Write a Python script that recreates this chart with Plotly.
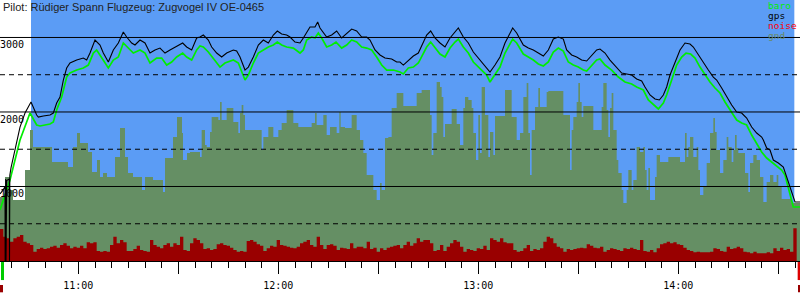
import pandas as pd
import plotly.graph_objects as go

BASE = pd.Timestamp("2000-01-01 10:00:00")

# --- GPS altitude (m), time in minutes after 10:00 ---
gps_t = [36.5, 37.4, 38.0, 38.05, 38.2, 38.3, 38.5, 39.3, 39.35, 39.45, 39.8, 41.0, 42.5, 44.0, 45.8,
         47.5, 48.0, 49.5, 51.5, 52.5, 53.5, 54.5, 55.5, 56.5, 57.5, 59.5, 61.5, 62.5, 63.5, 65.0,
         66.5, 67.5, 69.0, 70.5, 72.0, 73.5, 74.5, 76.0, 77.0, 78.5, 80.0, 81.5, 83.0, 84.5, 86.0,
         87.5, 89.0, 91.3, 92.5, 94.0, 95.5, 96.5, 97.5, 99.0, 100.0, 101.5, 103.0, 104.5, 106.5,
         107.5, 108.5, 110.0, 111.0, 112.5, 114.0, 115.5, 117.0, 118.5, 119.7, 121.0, 122.5, 123.5,
         125.0, 126.5, 127.5, 128.5, 129.5, 131.0, 131.8, 132.5, 133.5, 134.5, 136.0, 137.5, 139.0,
         140.5, 142.0, 143.5, 145.0, 146.5, 147.5, 149.0, 150.5, 152.0, 154.0, 155.5, 156.5, 157.5,
         159.0, 160.5, 162.0, 163.5, 164.5, 165.7, 167.0, 168.5, 170.0, 171.5, 173.0, 174.0, 175.5,
         177.0, 178.5, 180.5, 182.5, 183.5, 185.0, 186.5, 188.0, 189.5, 190.3, 191.5, 193.5, 195.0,
         196.5, 198.0, 199.5, 201.0, 202.5, 204.0, 205.5, 206.5, 208.0, 209.5, 211.0, 212.5, 214.0,
         215.5, 216.5, 218.0, 219.5, 221.5, 223.0, 224.5, 226.0, 227.5, 229.0, 230.0, 231.5, 233.0,
         234.3, 235.5, 236.5, 237.5, 239.0, 240.5, 242.0, 243.5, 244.5, 246.0, 247.5, 249.0, 250.5,
         251.5, 253.0, 254.5, 256.0, 257.5, 259.0, 260.5, 262.0, 263.5, 265.0, 265.5, 266.5, 267.5,
         268.5, 270.0, 271.5, 272.5, 273.5, 274.3, 275.0, 276.5]
gps_alt = [900, 950, 1000, 0, 1100, 0, 1080, 1100, 0, 1150, 1250, 1490, 1798, 1986, 2134,
           1959, 1932, 1946, 1959, 1986, 2120, 2201, 2429, 2590, 2657, 2697, 2724, 2697, 2791, 2966,
           2899, 2791, 2670, 2832, 2926, 3073, 3006, 2926, 2899, 2966, 2926, 2791, 2832, 2858, 2791,
           2832, 2872, 2926, 2872, 2832, 2993, 3006, 3033, 2966, 2872, 2791, 2738, 2791, 2832,
           2818, 2738, 2563, 2603, 2738, 2899, 2966, 2926, 3033, 3087, 3046, 3033, 3006,
           2939, 2926, 2993, 3060, 3140, 3140, 3207, 3127, 3073, 3006, 3033, 3087, 2993,
           3060, 3113, 3087, 3006, 3006, 2966, 2832, 2765, 2724, 2711, 2670, 2670, 2630,
           2697, 2751, 2791, 2939, 3033, 3087, 2993, 2926, 2872, 2993, 3073, 3127, 3006,
           2926, 2805, 2697, 2603, 2536, 2630, 2738, 2926, 3060, 3127, 3060, 2899, 2858,
           2832, 2791, 2751, 2832, 2979, 3006, 2979, 2832, 2765, 2738, 2697, 2684, 2765,
           2832, 2845, 2791, 2697, 2603, 2523, 2510, 2496, 2442, 2416, 2335, 2228, 2174,
           2161, 2228, 2335, 2496, 2671, 2832, 2926, 2912, 2872, 2765, 2671, 2563, 2469,
           2429, 2322, 2201, 2094, 2000, 1986, 1919, 1798, 1718, 1664, 1624, 1516, 1490,
           1355, 1315, 1261, 1127, 993, 859, 792, 792]

# --- Barometric altitude (m) ---
baro_t = [36.5, 39.5, 42.5, 45.5, 47.5, 48.5, 51.5, 52.5, 53.5, 55.0, 56.5, 57.5, 59.5, 61.5, 63.0,
          64.5, 65.5, 66.5, 69.0, 70.5, 72.0, 73.5, 75.0, 76.5, 78.5, 80.0, 81.5, 83.5, 85.0, 86.5,
          88.0, 89.5, 91.3, 92.5, 94.0, 95.5, 96.5, 97.5, 99.0, 100.5, 102.5, 104.0, 106.5, 108.0,
          109.0, 110.0, 111.0, 112.5, 114.0, 115.5, 117.0, 118.5, 119.7, 121.0, 122.5, 124.5, 126.5,
          127.5, 128.5, 130.0, 131.0, 132.0, 133.0, 134.5, 136.0, 137.3, 139.0, 140.5, 142.0, 143.5,
          145.0, 146.5, 148.0, 149.5, 151.0, 152.5, 154.5, 156.5, 157.5, 159.0, 160.5, 162.0, 163.5,
          164.5, 165.7, 167.0, 168.5, 170.0, 171.5, 173.0, 174.0, 175.5, 177.0, 178.5, 180.5, 182.5,
          183.5, 185.0, 186.5, 188.0, 189.5, 190.3, 191.5, 193.5, 195.0, 196.5, 198.0, 199.5, 201.0,
          202.5, 204.0, 205.5, 207.0, 208.5, 210.0, 211.5, 212.5, 214.0, 215.5, 216.5, 218.0, 220.0,
          222.0, 224.0, 226.0, 227.5, 229.5, 231.0, 232.5, 234.0, 235.5, 236.5, 238.0, 239.5, 241.0,
          242.3, 243.7, 245.0, 246.5, 248.0, 249.5, 251.0, 252.5, 254.0, 255.5, 257.5, 259.0, 260.5,
          262.0, 263.5, 265.0, 266.5, 268.5, 271.0, 272.0, 273.0, 273.7, 274.5, 276.5]
baro_alt = [684, 1087, 1624, 1986, 1825, 1812, 1839, 1865, 2026, 2201, 2469, 2523, 2563, 2590, 2630,
            2791, 2832, 2765, 2590, 2697, 2738, 2926, 2858, 2791, 2832, 2791, 2657, 2724, 2724, 2630,
            2671, 2738, 2791, 2738, 2697, 2832, 2885, 2872, 2805, 2724, 2603, 2657, 2697, 2657,
            2536, 2429, 2496, 2657, 2791, 2832, 2872, 2899, 2939, 2899, 2872, 2858, 2791,
            2832, 2966, 3006, 2993, 3060, 2993, 2872, 2899, 2939, 2858, 2899, 2966, 2939,
            2872, 2858, 2832, 2738, 2630, 2563, 2563, 2536, 2510, 2590, 2603, 2657, 2791,
            2872, 2939, 2858, 2778, 2738, 2858, 2939, 2979, 2872, 2791, 2671, 2590, 2496,
            2402, 2496, 2603, 2791, 2926, 2979, 2926, 2778, 2738, 2697, 2644, 2617, 2671,
            2805, 2858, 2818, 2671, 2630, 2603, 2563, 2550, 2630, 2697, 2711, 2630, 2563,
            2469, 2402, 2375, 2335, 2295, 2161, 2094, 2040, 2120, 2228, 2429, 2630, 2738,
            2791, 2778, 2724, 2603, 2496, 2402, 2322, 2255, 2134, 2026, 1892, 1852, 1825,
            1691, 1584, 1463, 1382, 1315, 1221, 1154, 993, 859, 725, 725]

# --- Ground elevation (m), step series ---
gnd_t = [36.5, 38.0, 39.5, 40.4, 44.0, 45.5, 46.4, 52.1, 56.9, 58.4, 59.6, 60.5, 62.9, 64.1, 65.6,
         66.5, 67.4, 68.6, 71.0, 72.5, 74.0, 74.9, 76.4, 79.1, 80.0, 82.4, 85.4, 86.0, 88.4, 89.6,
         91.1, 91.4, 92.6, 93.5, 96.5, 97.0, 98.0, 98.5, 99.5, 100.0, 102.0, 102.5, 103.0, 104.5,
         106.5, 108.0, 108.5, 109.0, 109.5, 110.0, 115.0, 115.5, 117.0, 118.5, 120.0, 121.0, 122.5,
         124.5, 126.0, 130.0, 131.0, 131.5, 133.5, 134.5, 135.5, 137.5, 138.3, 138.7, 140.0, 142.0,
         143.5, 144.5, 145.5, 146.5, 148.5, 149.5, 150.5, 151.0, 152.0, 153.0, 154.0, 155.5, 157.5,
         161.5, 163.0, 165.5, 166.0, 166.5, 167.5, 168.5, 169.0, 169.5, 170.0, 172.0, 173.5, 174.5,
         175.5, 176.0, 177.0, 178.0, 178.5, 179.3, 180.0, 180.5, 181.0, 182.0, 183.0, 183.5, 184.5,
         185.0, 188.0, 190.0, 191.5, 192.5, 193.5, 194.5, 195.0, 195.5, 196.0, 197.0, 198.0, 198.5,
         200.5, 201.0, 205.5, 207.5, 208.0, 208.5, 209.5, 210.0, 210.5, 211.0, 211.5, 214.5, 217.0,
         217.5, 218.5, 219.0, 219.5, 220.0, 220.5, 221.5, 222.0, 223.0, 223.5, 224.5, 225.0, 226.0,
         226.5, 227.5, 228.5, 229.5, 230.0, 230.5, 231.0, 231.5, 233.0, 233.5, 234.5, 237.0, 240.5,
         242.0, 242.5, 243.0, 243.5, 244.5, 245.5, 246.0, 246.5, 247.5, 248.5, 249.5, 250.5, 251.0,
         251.5, 252.5, 253.5, 254.5, 255.0, 256.0, 256.5, 257.0, 257.5, 258.0, 260.0, 261.0, 261.5,
         262.5, 263.5, 264.5, 265.5, 266.5, 267.5, 268.5, 269.5, 270.0, 271.0, 274.0, 276.5]
gnd_alt = [859, 1127, 953, 819, 1221, 1758, 1530, 1329, 1261, 1530, 1718, 1584, 1463, 1194, 1355,
           1127, 1181, 1127, 1396, 1785, 1396, 1181, 1127, 953, 1127, 1087, 926, 1382, 1664, 1932,
           1718, 1355, 1449, 1463, 1396, 1758, 1557, 1530, 1731, 1932, 1892, 2134, 1892, 2053,
           1865, 1718, 1986, 2094, 1959, 1758, 1490, 1664, 1798, 1664, 1758, 1852, 2026,
           1852, 1798, 1852, 1986, 1825, 1959, 1691, 1798, 1718, 2000, 1798, 1785, 1959,
           1758, 1624, 1449, 1154, 953, 819, 1047, 953, 1651, 1664, 2053, 2255, 2080,
           2255, 2295, 1959, 1423, 1718, 2402, 2335, 2201, 1664, 1839, 2040, 1839, 1557,
           2053, 2201, 2161, 2053, 1718, 1355, 1959, 1449, 2335, 1959, 1396, 1731, 1423,
           1946, 2295, 1932, 1624, 1718, 2201, 2389, 1718, 1154, 1758, 2067, 2322, 2067,
           2268, 2281, 1959, 1221, 1758, 1932, 2134, 2389, 2134, 1932, 2080, 1758, 2067,
           2389, 2026, 1664, 2053, 2255, 1758, 1355, 1181, 953, 778, 953, 1221, 953,
           1087, 1530, 1463, 1530, 1221, 953, 1248, 819, 1127, 1423, 1329, 1396, 1329,
           1718, 1396, 1530, 1664, 1396, 1530, 1221, 886, 993, 1315, 1718, 1919, 1731,
           1490, 1181, 1355, 1664, 1530, 1329, 1490, 1691, 1516, 1449, 1181, 926, 1315,
           1423, 1355, 1127, 792, 1060, 1154, 1060, 1154, 993, 832, 778, 778]

# --- Noise level (scaled to altitude axis), one value per minute from 10:36:30 ---
noise_val = [429, 327, 304, 260, 304, 327, 349, 260, 237, 215,
             125, 161, 179, 161, 170, 192, 206, 179, 215, 237,
             206, 170, 192, 179, 206, 170, 251, 237, 251, 134,
             125, 134, 125, 215, 327, 237, 282, 251, 134, 134,
             161, 206, 148, 134, 125, 282, 215, 192, 170, 215,
             237, 192, 237, 215, 327, 148, 134, 237, 304, 282,
             237, 161, 170, 148, 161, 224, 237, 215, 206, 179,
             148, 125, 134, 125, 269, 282, 260, 224, 206, 134,
             170, 206, 192, 282, 215, 206, 192, 179, 170, 192,
             237, 260, 282, 215, 192, 327, 215, 161, 215, 224,
             206, 148, 179, 170, 161, 237, 170, 192, 192, 170,
             260, 161, 179, 125, 170, 148, 179, 192, 206, 215,
             170, 215, 260, 206, 237, 304, 260, 282, 282, 237,
             134, 148, 215, 134, 192, 237, 282, 260, 192, 125,
             161, 148, 134, 170, 161, 206, 148, 304, 282, 260,
             304, 251, 237, 237, 148, 125, 134, 170, 215, 134,
             161, 148, 170, 260, 327, 304, 237, 192, 170, 125,
             161, 148, 161, 170, 179, 170, 224, 206, 179, 170,
             192, 125, 148, 170, 161, 148, 134, 170, 161, 179,
             161, 148, 282, 134, 125, 148, 116, 170, 224, 237,
             260, 237, 251, 224, 215, 179, 148, 134, 116, 125,
             116, 116, 116, 125, 170, 161, 134, 125, 192, 161,
             170, 192, 170, 125, 116, 103, 125, 103, 103, 103,
             116, 103, 170, 134, 179, 148, 161, 125, 438, 72]

hour_ticks = ["11:00", "12:00", "13:00", "14:00"]
y_labels = [1000, 2000, 3000]
legend_items = [("baro", "#00ee00"), ("gps", "#000000"), ("noise", "#ff0000"), ("gnd", "#688a66")]
title_text = "Pilot: R\u00fcdiger Spann Flugzeug: Zugvogel IV OE-0465"

flight_start, flight_end = 45.8, 274.8
x_start, x_end = 36.5, 276.5


def tt(m):
    return BASE + pd.to_timedelta(pd.Series(m, dtype=float), unit="m")


def t1(m):
    return BASE + pd.Timedelta(minutes=m)


noise_t = [x_start + i for i in range(len(noise_val))]

BLUE = "#5b9cf5"
GND = "#658f64"
NOISE = "#990000"
BARO = "#00ee00"

fig = go.Figure()
fig.add_trace(go.Scatter(x=tt(gnd_t), y=gnd_alt, mode="lines", line=dict(width=0, shape="hv"),
                         fill="tozeroy", fillcolor=GND, hoverinfo="skip"))
fig.add_trace(go.Scatter(x=tt(noise_t), y=noise_val, mode="lines", line=dict(width=0, shape="hv"),
                         fill="tozeroy", fillcolor=NOISE, hoverinfo="skip"))
fig.add_trace(go.Scatter(x=tt(baro_t), y=baro_alt, mode="lines", line=dict(color=BARO, width=1.7)))
fig.add_trace(go.Scatter(x=tt(gps_t), y=gps_alt, mode="lines", line=dict(color="black", width=1.1)))

shapes = []
# flight period background
shapes.append(dict(type="rect", xref="x", yref="paper", x0=t1(flight_start), x1=t1(flight_end),
                   y0=0, y1=1, fillcolor=BLUE, line=dict(width=0), layer="below"))
# altitude grid lines
for v in [500, 1000, 1500, 2000, 2500, 3000]:
    shapes.append(dict(type="line", xref="paper", yref="y", x0=0, x1=1, y0=v, y1=v,
                       line=dict(color="black", width=1, dash="solid" if v % 1000 == 0 else "5px,4px"),
                       layer="above"))
# takeoff / landing markers below the axis
shapes.append(dict(type="rect", xref="x", yref="paper", x0=t1(36.8), x1=t1(37.7), y0=-0.004, y1=-0.073,
                   fillcolor="#00cc00", line=dict(width=0)))
shapes.append(dict(type="rect", xref="x", yref="paper", x0=t1(36.5), x1=t1(37.4), y0=-0.092, y1=-0.12,
                   fillcolor=NOISE, line=dict(width=0)))
shapes.append(dict(type="rect", xref="x", yref="paper", x0=t1(275.8), x1=t1(276.5), y0=-0.004, y1=-0.073,
                   fillcolor="#dd0000", line=dict(width=0)))
shapes.append(dict(type="rect", xref="x", yref="paper", x0=t1(275.9), x1=t1(276.5), y0=-0.092, y1=-0.12,
                   fillcolor=NOISE, line=dict(width=0)))

annotations = []
annotations.append(dict(text=title_text, xref="paper", yref="paper", x=0.001, y=1.0, xanchor="left",
                        yanchor="top", showarrow=False, yshift=1,
                        font=dict(family="Liberation Sans, Arial", size=11, color="#222222")))
for v in y_labels:
    annotations.append(dict(text=str(v), xref="paper", yref="y", x=0, y=v, xanchor="left", yanchor="top",
                            showarrow=False, xshift=-2, yshift=0,
                            font=dict(family="DejaVu Sans Mono", size=10, color="black")))
for i, (name, col) in enumerate(legend_items):
    annotations.append(dict(text=name, xref="paper", yref="paper", x=0.9605, y=1.0, xanchor="left",
                            yanchor="top", yshift=1 - 10 * i, xshift=-1, showarrow=False, borderpad=0,
                            font=dict(family="DejaVu Sans Mono", size=9.5, color=col)))

tickvals = [t1(m) for m in [30, 60, 90, 120, 150, 180, 210, 240, 270]]
ticktext = ["", hour_ticks[0], "", hour_ticks[1], "", hour_ticks[2], "", hour_ticks[3], ""]

fig.update_layout(
    width=800, height=300,
    margin=dict(l=0, r=0, t=0, b=39, pad=0),
    paper_bgcolor="white", plot_bgcolor="white",
    showlegend=False,
    shapes=shapes, annotations=annotations,
    xaxis=dict(type="date", range=[t1(x_start), t1(x_end)], showgrid=False, zeroline=False,
               showline=True, linecolor="black", linewidth=1,
               tickmode="array", tickvals=tickvals, ticktext=ticktext,
               ticks="outside", ticklen=12, tickcolor="black", tickwidth=1,
               ticklabelstandoff=3,
               tickfont=dict(family="DejaVu Sans Mono", size=10, color="black"),
               minor=dict(ticks="outside", ticklen=6, tickcolor="black", tickwidth=1,
                          dtick=300000, tick0=t1(0), showgrid=False)),
    yaxis=dict(range=[0, 3503], showgrid=False, zeroline=False, showticklabels=False, ticks=""),
)

fig.write_html("out.html")
